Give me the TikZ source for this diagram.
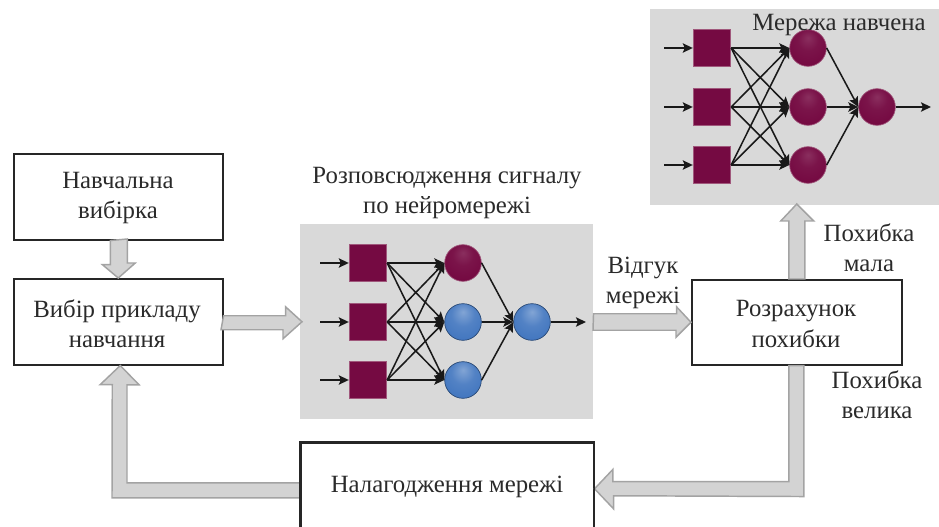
\documentclass[tikz,border=0pt]{standalone}
\usepackage{fontspec}
\setmainfont{Liberation Serif}
\usetikzlibrary{calc,arrows.meta}
\definecolor{panelgray}{HTML}{D9D9D9}
\definecolor{arrowfill}{HTML}{D3D3D3}
\definecolor{arrowline}{HTML}{A3A3A3}
\definecolor{maroon}{HTML}{750A42}
\definecolor{maroonedge}{HTML}{A0587C}
\definecolor{ballblue}{HTML}{3F74BE}
\definecolor{inktext}{HTML}{2A2A2A}
\pgfdeclareradialshading{nnred}{\pgfpoint{0bp}{14bp}}{%
  color(0bp)=(maroon!85!white); color(14bp)=(maroon!96!white); color(30bp)=(maroon); color(48bp)=(maroon); color(62bp)=(maroon!55!black)}
\pgfdeclareradialshading{nnblue}{\pgfpoint{0bp}{14bp}}{%
  color(0bp)=(ballblue!65!white); color(16bp)=(ballblue!90!white); color(35bp)=(ballblue); color(50bp)=(ballblue!88!black); color(62bp)=(ballblue!40!black)}
\tikzset{
  x=0.75pt,y=-0.75pt,
  panel/.style={fill=panelgray,draw=none,inner sep=0pt,anchor=north west},
  blockbox/.style={draw=black!85,line width=1.15pt,fill=white,inner sep=0pt,anchor=north west},
  blockarrow/.style={draw=arrowline,line width=1.1pt,fill=arrowfill,line join=miter},
  neuronsq/.style={draw=maroonedge,line width=0.8pt,fill=maroon,minimum size=28pt,inner sep=0pt},
  redball/.style={circle,draw=maroonedge,line width=0.5pt,shading=nnred,minimum size=27.5pt,inner sep=0pt},
  blueball/.style={circle,draw=ballblue!60!black,line width=0.5pt,shading=nnblue,minimum size=27.5pt,inner sep=0pt},
  signal/.style={draw=black!90,line width=1.15pt,-{Stealth[length=7.5pt,width=7pt,inset=1.5pt]}},
  label/.style={font=\fontsize{18.6}{22.6}\selectfont,text=inktext,inner sep=0pt,align=center},
}
% #1 prefix, #2 x of squares, #3..#5 y rows, #6 x of hidden balls, #7 x of output, #8 style of lower balls, #9 style of top ball
\newcommand{\drawnet}[9]{%
  \foreach \r/\yy in {1/#3,2/#4,3/#5}{
    \node[neuronsq] (#1s\r) at (#2,\yy) {};
    \coordinate (#1i\r) at (#2-48,\yy);
    \draw[signal] (#1i\r) -- (#1s\r.west);
  }
  \node[#9] (#1h1) at (#6,#3) {};
  \node[#8] (#1h2) at (#6,#4) {};
  \node[#8] (#1h3) at (#6,#5) {};
  \node[#8] (#1o) at (#7,#4) {};
  \coordinate (#1e) at (#7+54,#4);
  \foreach \a in {1,2,3}\foreach \b in {1,2,3}{
    \draw[signal] (#1s\a.east) -- (#1h\b.west);
  }
  \foreach \b in {1,2,3}{
    \draw[signal] (#1h\b.east) -- (#1o.west);
  }
  \draw[signal] (#1o.east) -- (#1e);
}
\begin{document}
\begin{tikzpicture}
\useasboundingbox (0,0) rectangle (939,527);
\clip (0,0) rectangle (939,527);

% panels
\node[panel,minimum width=293*0.75pt,minimum height=195*0.75pt] (midpanel) at (300,224) {};
\node[panel,minimum width=295*0.75pt,minimum height=196*0.75pt] (toppanel) at (650,9) {};

% boxes
\node[blockbox,minimum width=209*0.75pt,minimum height=86*0.75pt] (sample) at (13,153) {};
\node[blockbox,minimum width=209*0.75pt,minimum height=86*0.75pt] (choice) at (13,278) {};
\node[blockbox,minimum width=210*0.75pt,minimum height=85*0.75pt] (error) at (691,279) {};
\node[blockbox,minimum width=293*0.75pt,minimum height=92*0.75pt] (tune) at (300,442) {};

% block arrows
\draw[blockarrow] ($(sample.south)+(-8,0)$) -- ++(0,24) -- ++(-8,0) -- (choice.north) -- ++(17,-15) -- ++(-8,0) -- ++(0,-24) -- cycle;
\draw[blockarrow] ($(choice.east)+(0,-6)$) -- ++(62,0) -- ++(0,-9) -- ($(midpanel.west)+(2,0)$) -- ++(-19,17) -- ++(0,-9) -- ++(-62,0) -- cycle;
\draw[blockarrow] ($(midpanel.east)+(0,-8)$) -- ++(83,0) -- ++(0,-7) -- (error.west) -- ++(-15,15) -- ++(0,-7) -- ++(-83,0) -- cycle;
\draw[blockarrow] ($(error.north)+(-8,0)$) -- ++(0,-58) -- ++(-8,0) -- ($(error.north)+(0,-75)$) -- ++(17,17) -- ++(-9,0) -- ++(0,58) -- cycle;
\draw[blockarrow] ($(error.south)+(-8,0)$) -- ++(0,116) -- ++(-176,0) -- ++(0,-12) -- (tune.east) -- ++(19,20) -- ++(0,-13)
  -- ($(error.south)+(7,131)$) -- ++(0,-131) -- cycle;
\draw[blockarrow] ($(tune.west)+(0,-6)$) -- ++(-173,0) -- ++(0,-98) -- ++(12,0) -- ($(choice.south)+(2,0)$) -- ++(-20,19) -- ++(12,0)
  -- ($(tune.west)+(-188,9)$) -- ++(188,0) -- cycle;
\draw[draw=black!85,line width=1.15pt] (tune.south west) -- (tune.north west) -- (tune.north east) -- (tune.south east);

% networks
\drawnet{m}{368}{263}{322}{380}{463}{532}{blueball}{redball}
\drawnet{t}{712}{48}{107}{165}{808}{877}{redball}{redball}

% box and panel labels
\node[label] (l1) at (118,198) {Навчальна\\вибірка};
\node[label] (l2) at (117,324) {Вибір прикладу\\навчання};
\node[label] (l3) at (796,324) {Розрахунок\\похибки};
\node[label] (l4) at (447,487) {Налагодження мережі};
\node[label] (l5) at (447,193) {Розповсюдження сигналу\\по нейромережі};
\node[label] (l6) at (643,283) {Відгук\\мережі};
\node[label] (l7) at (869,248) {Похибка\\мала};
\node[label] (l8) at (877,395) {Похибка\\велика};
\node[label] (l9) at (839,25) {Мережа навчена};
\end{tikzpicture}
\end{document}
